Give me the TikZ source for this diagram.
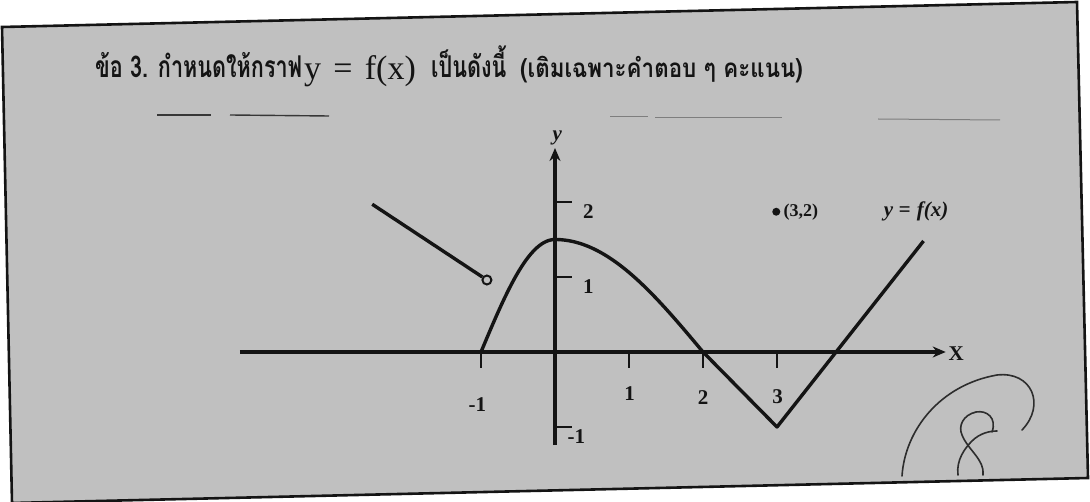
\documentclass[tikz,border=0pt]{standalone}
\usepackage{fontspec}
\setmainfont{Liberation Serif}
\newfontfamily\thaifont[Script=Thai]{Loma}
\usetikzlibrary{arrows.meta}
\definecolor{bggray}{RGB}{192,192,192}
\definecolor{ink}{RGB}{20,20,20}
\definecolor{pencil}{RGB}{45,45,45}
\tikzset{
  frameline/.style={draw=ink, line width=2.6pt, fill=bggray},
  titlethai/.style={anchor=base west, inner sep=0pt, font=\thaifont\bfseries\fontsize{30}{30}\selectfont, text=ink},
  titlesmall/.style={anchor=base west, inner sep=0pt, font=\thaifont\bfseries\fontsize{26}{26}\selectfont, text=ink},
  titlemath/.style={anchor=base west, inner sep=0pt, font=\fontsize{34}{34}\selectfont, text=ink},
  underline/.style={draw=ink!85, line width=1.4pt},
  faintline/.style={draw=ink!55, line width=1pt},
  axis/.style={draw=ink, line width=3.2pt, -{Stealth[length=13pt,width=11pt]}},
  tick/.style={draw=ink, line width=2.6pt},
  curve/.style={draw=ink, line width=3.4pt, line join=round},
  lbl/.style={inner sep=0pt, font=\bfseries\fontsize{21}{21}\selectfont, text=ink},
  smalllbl/.style={inner sep=0pt, font=\bfseries\fontsize{18}{18}\selectfont, text=ink},
  fxlbl/.style={inner sep=0pt, font=\bfseries\itshape\fontsize{21}{21}\selectfont, text=ink},
  opencirc/.style={circle, draw=ink, line width=2pt, fill=bggray, minimum size=9pt, inner sep=0pt},
  soliddot/.style={circle, fill=ink, minimum size=8pt, inner sep=0pt},
  hand/.style={draw=pencil, line width=1.6pt, line cap=round, line join=round}
}
\begin{document}
\begin{tikzpicture}[x=1pt,y=-1pt]
\useasboundingbox (0,0) rectangle (1090,502);
\fill[white] (0,0) rectangle (1090,502);
% page frame (slightly rotated scan)
\path[frameline] (2,27) -- (1077,2) -- (1088,478) -- (12,503) -- cycle;

% title
\node[titlethai] (t1) at (95,78) {\scalebox{0.72}[1]{ข้อ 3. กำหนดให้กราฟ}};
\node[titlemath] (t2) at (304,80) {y\hspace{0.36em}=\hspace{0.36em}f(x)};
\node[titlethai] (t3) at (431,78) {\scalebox{0.72}[1]{เป็นดังนี้}};
\node[titlesmall] (t4) at (520,78) {\scalebox{0.86}[1]{(เติมเฉพาะคำตอบ ๆ คะแนน)}};

% answer lines
\draw[underline] (157,115) -- (211,115);
\draw[underline] (230,115) -- (329,116);
\draw[faintline] (610,117) -- (648,117);
\draw[faintline] (655,118) -- (782,118);
\draw[faintline] (878,119) -- (1000,120);

% graph
\begin{scope}[shift={(555,352)}, x=74pt, y=75pt]
  \coordinate (xl) at (-4.26,0);
  \coordinate (xr) at (5.28,0);
  \coordinate (yb) at (0,-1.24);
  \coordinate (yt) at (0,2.72);
  \draw[axis] (xl) -- (xr);
  \draw[axis] (yb) -- (yt);
  \node[lbl] (X) at (5.42,-0.02) {X};
  \node[fxlbl] (Y) at (0.03,2.86) {y};
  % ticks on x axis
  \foreach \t/\n in {-1/xm1,1/x1,2/x2,3/x3}{
    \coordinate (\n a) at (\t,0);
    \coordinate (\n b) at (\t,-0.22);
    \draw[tick] (\n a) -- (\n b);
  }
  % ticks on y axis
  \foreach \t/\n in {2/y2,1/y1,-1/ym1}{
    \coordinate (\n a) at (0,\t);
    \coordinate (\n b) at (0.23,\t);
    \draw[tick] (\n a) -- (\n b);
  }
  \node[lbl] (lx-1) at (-1.05,-0.70) {-1};
  \node[lbl] (lx1) at (1.01,-0.56) {1};
  \node[lbl] (lx2) at (2.0,-0.61) {2};
  \node[lbl] (lx3) at (3.01,-0.59) {3};
  \node[lbl] (ly2) at (0.45,1.87) {2};
  \node[lbl] (ly1) at (0.45,0.87) {1};
  \node[lbl] (ly-1) at (0.29,-1.13) {-1};
  % the graph of f
  \draw[curve] plot[domain=-1:0, samples=50, smooth] (\x,{1.5*cos(90*\x)})
     -- plot[domain=0:2, samples=60, smooth] (\x,{1.5*cos(45*\x)})
     -- (3,-1) -- (4.98,1.48);
  % left ray with open end
  \coordinate (rs) at (-2.47,1.97);
  \node[opencirc] (oc) at (-0.92,0.96) {};
  \draw[curve] (rs) -- (oc);
  % isolated point
  \node[soliddot] (p32) at (2.99,1.87) {};
  \node[smalllbl, anchor=west] (l32) at ([xshift=3pt]p32.east) {(3,2)};
  \node[fxlbl] (lf) at (4.88,1.87) {y = \kern1pt\textit{f}(x)};
\end{scope}

% hand-written score
\draw[hand] (902,476) .. controls (905,430) and (940,385) .. (997,375)
  .. controls (1032,371) and (1046,405) .. (1022,430);
\draw[hand] (992,432) .. controls (997,418) and (987,410) .. (976,412)
  .. controls (963,415) and (958,426) .. (962,435)
  .. controls (968,450) and (985,460) .. (983,475);
\draw[hand] (958,475) .. controls (956,460) and (965,448) .. (972,441)
  .. controls (980,433) and (990,431) .. (997,431);
\end{tikzpicture}
\end{document}
